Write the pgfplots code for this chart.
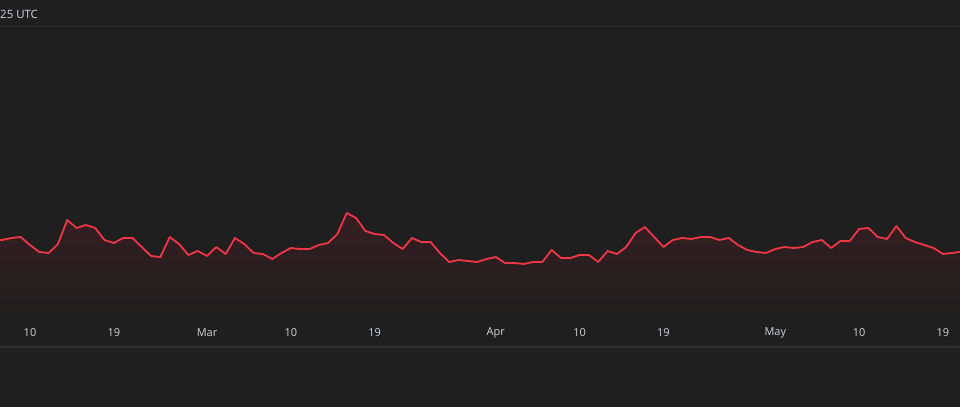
\documentclass[border=0pt]{standalone}
\usepackage{pgfplots}
\pgfplotsset{compat=1.18}
\usepackage{fontspec}
\setmainfont{Open Sans}
\definecolor{bg}{RGB}{31,31,31}
\definecolor{gridc}{RGB}{47,47,47}
\definecolor{txt}{RGB}{209,212,220}
\definecolor{redline}{RGB}{242,54,69}
\definecolor{filltop}{RGB}{54,30,34}
\begin{document}
\begin{tikzpicture}
\begin{axis}[
  name=main,
  scale only axis, width=960bp, height=407bp,
  xmin=-3.22, xmax=99.83, ymin=-87, ymax=320,
  axis background/.style={fill=bg},
  axis line style={draw=none},
  major tick length=0pt,
  xtick={0,9,19,28,37,50,59,68,80,89,98},
  xticklabels={10,19,Mar,10,19,Apr,10,19,May,10,19},
  xticklabel style={anchor=center, yshift=74bp, text=txt, font=\fontsize{11}{13}\selectfont},
  ytick={293.5,-27}, yticklabel=\empty,
  ymajorgrids, grid style={draw=gridc, line width=1.6bp},
  clip=true,
]
\addplot[draw=none, shade, top color=filltop, bottom color=bg] table {
x y
-4 79
-3 80
-2 82
-1 83
0 75
1 68
2 67
3 76
4 100
5 92
6 95
7 92
8 80
9 77
10 82
11 82
12 73
13 64
14 63
15 83
16 76
17 65
18 69
19 64
20 73
21 66
22 82
23 76
24 67
25 66
26 61
27 67
28 72
29 71
30 71
31 75
32 77
33 86
34 107
35 102
36 89
37 86
38 85
39 77
40 71
41 82
42 78
43 78
44 67
45 58
46 60
47 59
48 58
49 61
50 63
51 57
52 57
53 56
54 58
55 58
56 70
57 62
58 62
59 65
60 65
61 58
62 69
63 66
64 73
65 87
66 93
67 83
68 73
69 80
70 82
71 81
72 83
73 83
74 80
75 82
76 75
77 70
78 68
79 67
80 71
81 73
82 72
83 73
84 78
85 80
86 72
87 79
88 79
89 91
90 92
91 83
92 81
93 94
94 82
95 78
96 75
97 72
98 66
99 67
100 68.5
} \closedcycle;
\addplot[color=redline, line width=1.8bp, line join=round, no marks] table {
x y
-4 79
-3 80
-2 82
-1 83
0 75
1 68
2 67
3 76
4 100
5 92
6 95
7 92
8 80
9 77
10 82
11 82
12 73
13 64
14 63
15 83
16 76
17 65
18 69
19 64
20 73
21 66
22 82
23 76
24 67
25 66
26 61
27 67
28 72
29 71
30 71
31 75
32 77
33 86
34 107
35 102
36 89
37 86
38 85
39 77
40 71
41 82
42 78
43 78
44 67
45 58
46 60
47 59
48 58
49 61
50 63
51 57
52 57
53 56
54 58
55 58
56 70
57 62
58 62
59 65
60 65
61 58
62 69
63 66
64 73
65 87
66 93
67 83
68 73
69 80
70 82
71 81
72 83
73 83
74 80
75 82
76 75
77 70
78 68
79 67
80 71
81 73
82 72
83 73
84 78
85 80
86 72
87 79
88 79
89 91
90 92
91 83
92 81
93 94
94 82
95 78
96 75
97 72
98 66
99 67
100 68.5
};
\node[anchor=west, inner sep=0pt, text=txt, font=\fontsize{11.5}{13}\selectfont] at (rel axis cs:0,0.9656) {25 UTC};
\end{axis}
\pgfresetboundingbox
\path[use as bounding box] (main.south west) rectangle (main.north east);
\end{tikzpicture}
\end{document}
